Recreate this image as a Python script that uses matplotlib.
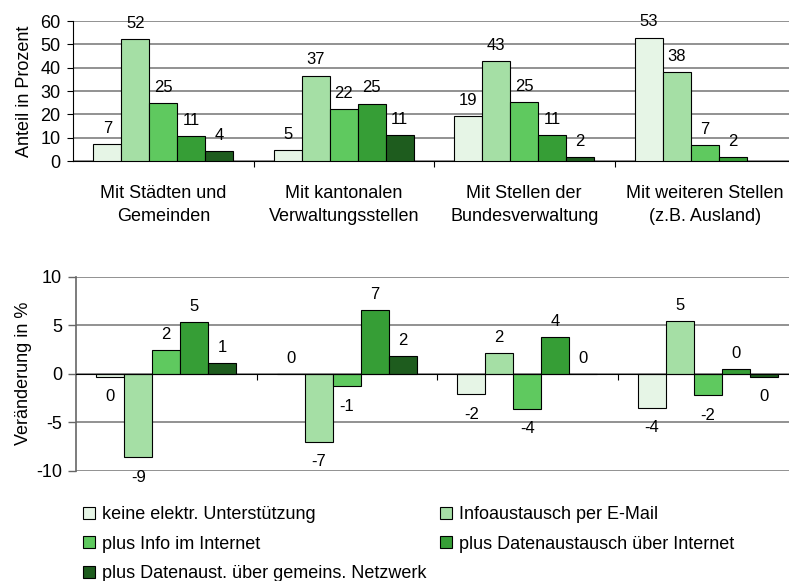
import numpy as np
import matplotlib.pyplot as plt
from matplotlib.patches import Patch

plt.rcParams['font.family'] = ['Liberation Sans', 'DejaVu Sans']
plt.rcParams['font.size'] = 13
plt.rcParams['axes.unicode_minus'] = False

# ---- data ----
categories = ['Mit Städten und\nGemeinden',
              'Mit kantonalen\nVerwaltungsstellen',
              'Mit Stellen der\nBundesverwaltung',
              'Mit weiteren Stellen\n(z.B. Ausland)']
series = ['keine elektr. Unterstützung',
          'Infoaustausch per E-Mail',
          'plus Info im Internet',
          'plus Datenaustausch über Internet',
          'plus Datenaust. über gemeins. Netzwerk']
colors = ['#e6f5e6', '#a5dfa5', '#5fc95f', '#369e36', '#1e5c1e']

# Anteil in Prozent, one row per series
share = np.array([
    [7.3, 4.7, 19.1, 52.9],
    [52.4, 36.6, 42.7, 38.0],
    [25.0, 22.4, 25.1, 6.7],
    [10.7, 24.6, 11.0, 1.6],
    [4.2, 11.2, 1.6, np.nan],
])

# Veränderung in %, one row per series
change = np.array([
    [-0.3, 0.0, -2.1, -3.5],
    [-8.6, -7.0, 2.1, 5.4],
    [2.4, -1.3, -3.6, -2.2],
    [5.3, 6.6, 3.8, 0.5],
    [1.1, 1.8, 0.0, -0.3],
])

W, H = 789, 581
fig = plt.figure(figsize=(W / 100, H / 100), dpi=100)

bw = 28 / 180.5
x = np.arange(len(categories))
grid_col = '#7f7f7f'


def style_x(ax):
    ax.set_xticks(np.arange(len(categories) - 1) + 0.5)
    ax.set_xticklabels([])
    ax.tick_params(axis='x', which='major', length=4.5, width=0.8,
                   direction='out', color='black')


# ---- top: Anteil in Prozent ----
ax1 = fig.add_axes([73 / W, 1 - 161 / H, 716 / W, 140 / H])
for i in range(len(series)):
    vals = share[i]
    pos = x + (i - 2) * bw
    ok = ~np.isnan(vals)
    ax1.bar(pos[ok], vals[ok], width=bw, color=colors[i],
            edgecolor='black', linewidth=0.8, zorder=3)
    for px, v in zip(pos[ok], vals[ok]):
        ax1.annotate(f'{int(round(v))}', (px, v), xytext=(0, 8),
                     textcoords='offset points', ha='center', va='baseline',
                     fontsize=12, zorder=4)

ax1.set_xlim(-0.5, -0.5 + 716 / 180.5)
ax1.set_ylim(0, 60)
ax1.set_yticks(np.arange(0, 61, 10))
ax1.yaxis.grid(True, color=grid_col, linewidth=1.2)
ax1.set_axisbelow(True)
for s in ['top', 'right']:
    ax1.spines[s].set_visible(False)
ax1.spines['left'].set_linewidth(0.8)
ax1.spines['bottom'].set_linewidth(0.8)
ax1.tick_params(axis='y', length=4.5, width=0.8, pad=4.5)
style_x(ax1)
ax1.set_xticks(x, minor=True)
ax1.set_xticklabels(categories, minor=True, linespacing=1.48)
ax1.tick_params(axis='x', which='minor', length=0, pad=17)
ax1.set_ylabel('Anteil in Prozent', labelpad=5)

# ---- bottom: Veränderung in % ----
ax2 = fig.add_axes([76 / W, 1 - 470.7 / H, 713 / W, 194 / H])
for i in range(len(series)):
    vals = change[i]
    pos = x + (i - 2) * bw
    ax2.bar(pos, vals, width=bw, color=colors[i],
            edgecolor='black', linewidth=0.8, zorder=3)
    for px, v in zip(pos, vals):
        if v >= 0:
            ax2.annotate(f'{int(round(v))}', (px, v), xytext=(0, 8),
                         textcoords='offset points', ha='center',
                         va='baseline', fontsize=12, zorder=4)
        else:
            ax2.annotate(f'{int(round(v))}', (px, v), xytext=(0, -9),
                         textcoords='offset points', ha='center',
                         va='top', fontsize=12, zorder=4)

ax2.set_xlim(-0.5, -0.5 + 713 / 180.5)
ax2.set_ylim(-10, 10)
ax2.set_yticks([-10, -5, 0, 5, 10])
ax2.yaxis.grid(True, color=grid_col, linewidth=1.2)
ax2.set_axisbelow(True)
for s in ['top', 'right']:
    ax2.spines[s].set_visible(False)
ax2.spines['bottom'].set_position(('data', 0))
ax2.spines['bottom'].set_linewidth(0.8)
ax2.spines['bottom'].set_zorder(3.5)
ax2.spines['left'].set_color('#666666')
ax2.spines['left'].set_linewidth(1.2)
ax2.tick_params(axis='y', length=5.5, width=1.0, color='#666666', pad=4.5)
style_x(ax2)
ax2.set_ylabel('Veränderung in %', labelpad=3)

# ---- legend, two columns filled row by row ----
handles = [Patch(facecolor=c, edgecolor='black', linewidth=0.8) for c in colors]
order = [0, 2, 4, 1, 3]
fig.legend([handles[k] for k in order], [series[k] for k in order],
           ncol=2, loc='upper left', bbox_to_anchor=(83 / W, 1 - 506 / H),
           frameon=False, borderpad=0, borderaxespad=0,
           handlelength=0.65, handleheight=0.65, handletextpad=0.38,
           columnspacing=0.78, labelspacing=0.70, fontsize=13)

fig.savefig('out.png', dpi=100)
